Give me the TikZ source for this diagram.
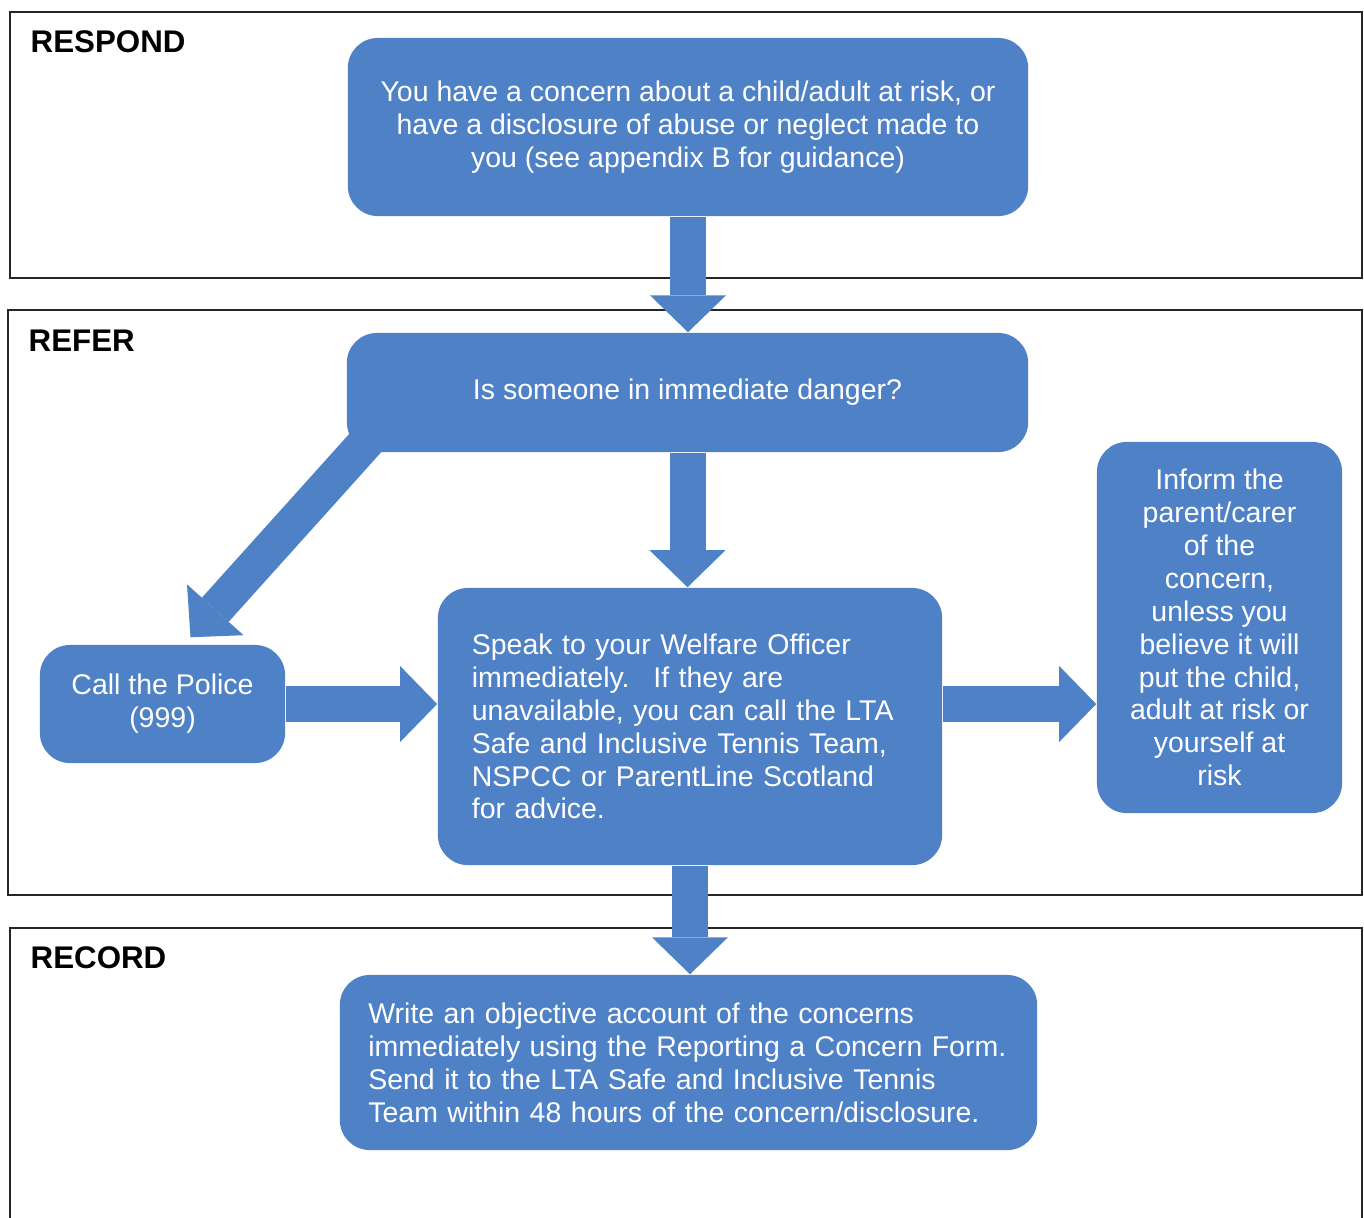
\documentclass[tikz,border=0pt]{standalone}
\usepackage{fontspec}
\setmainfont{Liberation Sans}
\usetikzlibrary{positioning,arrows.meta}
\definecolor{flowblue}{RGB}{79,129,199}

\begin{document}
\begin{tikzpicture}[x=0.01cm,y=-0.01cm]
	\tikzstyle{every node}+=[inner sep=0pt, font=\fontsize{8.1}{9.36}\selectfont]
	\tikzstyle{stagebox}=[draw=none, fill=flowblue, rounded corners=0.3cm, text=white]
	\tikzstyle{panel}=[draw=black!85, line width=0.6pt]
	\tikzstyle{paneltitle}=[anchor=base west, font=\fontsize{8.9}{10}\selectfont\bfseries]
	\tikzstyle{fatarrow}=[draw=flowblue, line width=0.36cm, -{Triangle[width=0.76cm,length=0.37cm,line width=0pt]}]
	\useasboundingbox (0,0) rectangle (1364,1217);
	\clip (0,0) rectangle (1364,1217);
	% panels
	\draw[panel] (10,12) rectangle (1362,278);
	\draw[panel] (8,310) rectangle (1362,895);
	\draw[panel] (10,928) rectangle (1362,1240);
	\node[paneltitle] (respondlbl) at (30,52) {RESPOND};
	\node[paneltitle] (referlbl) at (28,351) {REFER};
	\node[paneltitle] (recordlbl) at (30,968) {RECORD};
	% boxes
	\node[stagebox, minimum width=6.8cm, minimum height=1.78cm, align=center] (concern) at (688,127)
		{You have a concern about a child/adult at risk, or\\have a disclosure of abuse or neglect made to\\you (see appendix B for guidance)};
	\node[stagebox, minimum width=6.81cm, minimum height=1.19cm] (danger) at (687.5,392.5) {Is someone in immediate danger?};
	\node[stagebox, minimum width=2.45cm, minimum height=1.18cm, align=center] (police) at (162.5,704) {Call the Police\\(999)};
	\node[stagebox, minimum width=5.04cm, minimum height=2.77cm, text width=4.36cm, align=left] (welfare) at (690,726.5)
		{Speak to your Welfare Officer\\immediately.~ If they are\\unavailable, you can call the LTA\\Safe and Inclusive Tennis Team,\\NSPCC or ParentLine Scotland\\for advice.};
	\node[stagebox, minimum width=2.45cm, minimum height=3.71cm, align=center] (inform) at (1219.5,627.5)
		{Inform the\\parent/carer\\of the\\concern,\\unless you\\believe it will\\put the child,\\adult at risk or\\yourself at\\risk};
	\node[stagebox, minimum width=6.97cm, minimum height=1.75cm, text width=6.4cm, align=left] (record) at (688.5,1062.5)
		{Write an objective account of the concerns\\immediately using the Reporting a Concern Form.\\Send it to the LTA Safe and Inclusive Tennis\\Team within 48 hours of the concern/disclosure.};
	% arrows
	\draw[fatarrow] (concern.south) -- (concern.south |- danger.north);
	\draw[fatarrow] (danger.south) -- (danger.south |- welfare.north);
	\coordinate (dstart) at ([shift={(23,-14)}]danger.south west);
	\coordinate (dtip) at ([shift={(28,-7)}]police.north);
	\draw[fatarrow] (dstart) -- (dtip);
	\draw[fatarrow] (police.east) -- (police.east -| welfare.west);
	\draw[fatarrow] (welfare.east |- police.east) -- (inform.west |- police.east);
	\draw[fatarrow] (welfare.south) -- (welfare.south |- record.north);
\end{tikzpicture}
\end{document}
